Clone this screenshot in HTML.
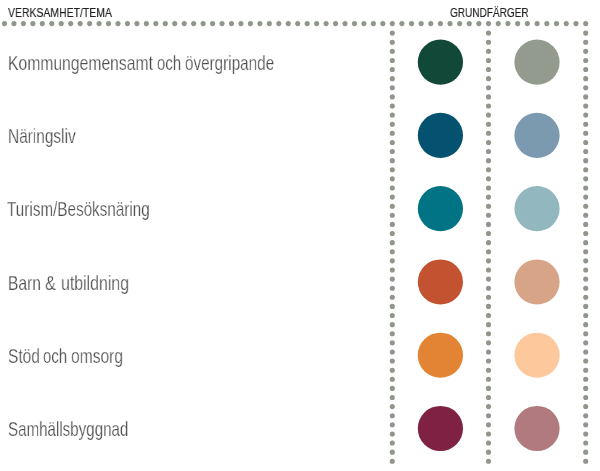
<!DOCTYPE html>
<html><head><meta charset="utf-8"><style>
html,body{margin:0;padding:0;background:#fff;width:600px;height:471px;overflow:hidden;}
body{position:relative;font-family:"Liberation Sans",sans-serif;}
svg{position:absolute;left:0;top:0;}
.t,.h{position:absolute;height:0;white-space:nowrap;}
.t span{position:absolute;left:0;bottom:0;font-size:21px;line-height:21px;color:#4a4a4a;-webkit-text-stroke:0.25px #fff;transform-origin:0 100%;display:inline-block;will-change:transform;}
.h span{position:absolute;left:0;bottom:0;font-size:13.5px;line-height:13.5px;color:#222;-webkit-text-stroke:0.15px #222;transform-origin:0 100%;display:inline-block;will-change:transform;}
</style></head><body>
<div class="h" style="left:8.16px;top:19.27px"><span style="transform:scaleX(0.7741)">VERKSAMHET/TEMA</span></div><div class="h" style="left:449.71px;top:19.27px"><span style="transform:scaleX(0.7434)">GRUNDFÄRGER</span></div>
<div class="t" style="left:8.20px;top:73.22px"><span style="transform:scaleX(0.7479)">Kommungemensamt</span></div><div class="t" style="left:156.95px;top:73.22px"><span style="transform:scaleX(0.7097)">och</span></div><div class="t" style="left:184.68px;top:73.22px"><span style="transform:scaleX(0.7272)">övergripande</span></div><div class="t" style="left:8.47px;top:146.22px"><span style="transform:scaleX(0.7343)">Näringsliv</span></div><div class="t" style="left:7.48px;top:219.42px"><span style="transform:scaleX(0.7265)">Turism/Besöksnäring</span></div><div class="t" style="left:8.42px;top:293.02px"><span style="transform:scaleX(0.7397)">Barn</span></div><div class="t" style="left:45.09px;top:293.02px"><span style="transform:scaleX(0.7742)">&amp;</span></div><div class="t" style="left:60.50px;top:293.02px"><span style="transform:scaleX(0.7565)">utbildning</span></div><div class="t" style="left:7.71px;top:365.92px"><span style="transform:scaleX(0.7398)">Stöd</span></div><div class="t" style="left:43.05px;top:365.92px"><span style="transform:scaleX(0.7097)">och</span></div><div class="t" style="left:70.51px;top:365.92px"><span style="transform:scaleX(0.7436)">omsorg</span></div><div class="t" style="left:7.74px;top:439.02px"><span style="transform:scaleX(0.7208)">Samhällsbyggnad</span></div>
<svg width="600" height="471" viewBox="0 0 600 471">
<g fill="#8f978c">
<circle cx="4.50" cy="23.6" r="2.55"/>
<circle cx="13.96" cy="23.6" r="2.55"/>
<circle cx="23.42" cy="23.6" r="2.55"/>
<circle cx="32.88" cy="23.6" r="2.55"/>
<circle cx="42.33" cy="23.6" r="2.55"/>
<circle cx="51.79" cy="23.6" r="2.55"/>
<circle cx="61.25" cy="23.6" r="2.55"/>
<circle cx="70.71" cy="23.6" r="2.55"/>
<circle cx="80.17" cy="23.6" r="2.55"/>
<circle cx="89.63" cy="23.6" r="2.55"/>
<circle cx="99.09" cy="23.6" r="2.55"/>
<circle cx="108.54" cy="23.6" r="2.55"/>
<circle cx="118.00" cy="23.6" r="2.55"/>
<circle cx="127.46" cy="23.6" r="2.55"/>
<circle cx="136.92" cy="23.6" r="2.55"/>
<circle cx="146.38" cy="23.6" r="2.55"/>
<circle cx="155.84" cy="23.6" r="2.55"/>
<circle cx="165.30" cy="23.6" r="2.55"/>
<circle cx="174.75" cy="23.6" r="2.55"/>
<circle cx="184.21" cy="23.6" r="2.55"/>
<circle cx="193.67" cy="23.6" r="2.55"/>
<circle cx="203.13" cy="23.6" r="2.55"/>
<circle cx="212.59" cy="23.6" r="2.55"/>
<circle cx="222.05" cy="23.6" r="2.55"/>
<circle cx="231.50" cy="23.6" r="2.55"/>
<circle cx="240.96" cy="23.6" r="2.55"/>
<circle cx="250.42" cy="23.6" r="2.55"/>
<circle cx="259.88" cy="23.6" r="2.55"/>
<circle cx="269.34" cy="23.6" r="2.55"/>
<circle cx="278.80" cy="23.6" r="2.55"/>
<circle cx="288.26" cy="23.6" r="2.55"/>
<circle cx="297.71" cy="23.6" r="2.55"/>
<circle cx="307.17" cy="23.6" r="2.55"/>
<circle cx="316.63" cy="23.6" r="2.55"/>
<circle cx="326.09" cy="23.6" r="2.55"/>
<circle cx="335.55" cy="23.6" r="2.55"/>
<circle cx="345.01" cy="23.6" r="2.55"/>
<circle cx="354.47" cy="23.6" r="2.55"/>
<circle cx="363.92" cy="23.6" r="2.55"/>
<circle cx="373.38" cy="23.6" r="2.55"/>
<circle cx="382.84" cy="23.6" r="2.55"/>
<circle cx="392.30" cy="23.6" r="2.55"/>
<circle cx="401.92" cy="23.6" r="2.55"/>
<circle cx="411.54" cy="23.6" r="2.55"/>
<circle cx="421.16" cy="23.6" r="2.55"/>
<circle cx="430.78" cy="23.6" r="2.55"/>
<circle cx="440.40" cy="23.6" r="2.55"/>
<circle cx="450.02" cy="23.6" r="2.55"/>
<circle cx="459.64" cy="23.6" r="2.55"/>
<circle cx="469.26" cy="23.6" r="2.55"/>
<circle cx="478.88" cy="23.6" r="2.55"/>
<circle cx="488.50" cy="23.6" r="2.55"/>
<circle cx="498.22" cy="23.6" r="2.55"/>
<circle cx="507.94" cy="23.6" r="2.55"/>
<circle cx="517.66" cy="23.6" r="2.55"/>
<circle cx="527.38" cy="23.6" r="2.55"/>
<circle cx="537.10" cy="23.6" r="2.55"/>
<circle cx="546.82" cy="23.6" r="2.55"/>
<circle cx="556.54" cy="23.6" r="2.55"/>
<circle cx="566.26" cy="23.6" r="2.55"/>
<circle cx="575.98" cy="23.6" r="2.55"/>
<circle cx="585.70" cy="23.6" r="2.55"/>
<circle cx="392.3" cy="33.11" r="2.55"/>
<circle cx="392.3" cy="42.22" r="2.55"/>
<circle cx="392.3" cy="51.33" r="2.55"/>
<circle cx="392.3" cy="60.44" r="2.55"/>
<circle cx="392.3" cy="69.55" r="2.55"/>
<circle cx="392.3" cy="78.66" r="2.55"/>
<circle cx="392.3" cy="87.77" r="2.55"/>
<circle cx="392.3" cy="96.88" r="2.55"/>
<circle cx="392.3" cy="105.99" r="2.55"/>
<circle cx="392.3" cy="115.10" r="2.55"/>
<circle cx="392.3" cy="124.21" r="2.55"/>
<circle cx="392.3" cy="133.32" r="2.55"/>
<circle cx="392.3" cy="142.43" r="2.55"/>
<circle cx="392.3" cy="151.54" r="2.55"/>
<circle cx="392.3" cy="160.65" r="2.55"/>
<circle cx="392.3" cy="169.76" r="2.55"/>
<circle cx="392.3" cy="178.87" r="2.55"/>
<circle cx="392.3" cy="187.98" r="2.55"/>
<circle cx="392.3" cy="197.09" r="2.55"/>
<circle cx="392.3" cy="206.20" r="2.55"/>
<circle cx="392.3" cy="215.31" r="2.55"/>
<circle cx="392.3" cy="224.42" r="2.55"/>
<circle cx="392.3" cy="233.53" r="2.55"/>
<circle cx="392.3" cy="242.64" r="2.55"/>
<circle cx="392.3" cy="251.75" r="2.55"/>
<circle cx="392.3" cy="260.86" r="2.55"/>
<circle cx="392.3" cy="269.97" r="2.55"/>
<circle cx="392.3" cy="279.08" r="2.55"/>
<circle cx="392.3" cy="288.19" r="2.55"/>
<circle cx="392.3" cy="297.30" r="2.55"/>
<circle cx="392.3" cy="306.41" r="2.55"/>
<circle cx="392.3" cy="315.52" r="2.55"/>
<circle cx="392.3" cy="324.63" r="2.55"/>
<circle cx="392.3" cy="333.74" r="2.55"/>
<circle cx="392.3" cy="342.85" r="2.55"/>
<circle cx="392.3" cy="351.96" r="2.55"/>
<circle cx="392.3" cy="361.07" r="2.55"/>
<circle cx="392.3" cy="370.18" r="2.55"/>
<circle cx="392.3" cy="379.29" r="2.55"/>
<circle cx="392.3" cy="388.40" r="2.55"/>
<circle cx="392.3" cy="397.51" r="2.55"/>
<circle cx="392.3" cy="406.62" r="2.55"/>
<circle cx="392.3" cy="415.73" r="2.55"/>
<circle cx="392.3" cy="424.84" r="2.55"/>
<circle cx="392.3" cy="433.95" r="2.55"/>
<circle cx="392.3" cy="443.06" r="2.55"/>
<circle cx="392.3" cy="452.17" r="2.55"/>
<circle cx="392.3" cy="461.28" r="2.55"/>
<circle cx="488.5" cy="33.11" r="2.55"/>
<circle cx="488.5" cy="42.22" r="2.55"/>
<circle cx="488.5" cy="51.33" r="2.55"/>
<circle cx="488.5" cy="60.44" r="2.55"/>
<circle cx="488.5" cy="69.55" r="2.55"/>
<circle cx="488.5" cy="78.66" r="2.55"/>
<circle cx="488.5" cy="87.77" r="2.55"/>
<circle cx="488.5" cy="96.88" r="2.55"/>
<circle cx="488.5" cy="105.99" r="2.55"/>
<circle cx="488.5" cy="115.10" r="2.55"/>
<circle cx="488.5" cy="124.21" r="2.55"/>
<circle cx="488.5" cy="133.32" r="2.55"/>
<circle cx="488.5" cy="142.43" r="2.55"/>
<circle cx="488.5" cy="151.54" r="2.55"/>
<circle cx="488.5" cy="160.65" r="2.55"/>
<circle cx="488.5" cy="169.76" r="2.55"/>
<circle cx="488.5" cy="178.87" r="2.55"/>
<circle cx="488.5" cy="187.98" r="2.55"/>
<circle cx="488.5" cy="197.09" r="2.55"/>
<circle cx="488.5" cy="206.20" r="2.55"/>
<circle cx="488.5" cy="215.31" r="2.55"/>
<circle cx="488.5" cy="224.42" r="2.55"/>
<circle cx="488.5" cy="233.53" r="2.55"/>
<circle cx="488.5" cy="242.64" r="2.55"/>
<circle cx="488.5" cy="251.75" r="2.55"/>
<circle cx="488.5" cy="260.86" r="2.55"/>
<circle cx="488.5" cy="269.97" r="2.55"/>
<circle cx="488.5" cy="279.08" r="2.55"/>
<circle cx="488.5" cy="288.19" r="2.55"/>
<circle cx="488.5" cy="297.30" r="2.55"/>
<circle cx="488.5" cy="306.41" r="2.55"/>
<circle cx="488.5" cy="315.52" r="2.55"/>
<circle cx="488.5" cy="324.63" r="2.55"/>
<circle cx="488.5" cy="333.74" r="2.55"/>
<circle cx="488.5" cy="342.85" r="2.55"/>
<circle cx="488.5" cy="351.96" r="2.55"/>
<circle cx="488.5" cy="361.07" r="2.55"/>
<circle cx="488.5" cy="370.18" r="2.55"/>
<circle cx="488.5" cy="379.29" r="2.55"/>
<circle cx="488.5" cy="388.40" r="2.55"/>
<circle cx="488.5" cy="397.51" r="2.55"/>
<circle cx="488.5" cy="406.62" r="2.55"/>
<circle cx="488.5" cy="415.73" r="2.55"/>
<circle cx="488.5" cy="424.84" r="2.55"/>
<circle cx="488.5" cy="433.95" r="2.55"/>
<circle cx="488.5" cy="443.06" r="2.55"/>
<circle cx="488.5" cy="452.17" r="2.55"/>
<circle cx="488.5" cy="461.28" r="2.55"/>
<circle cx="585.7" cy="33.11" r="2.55"/>
<circle cx="585.7" cy="42.22" r="2.55"/>
<circle cx="585.7" cy="51.33" r="2.55"/>
<circle cx="585.7" cy="60.44" r="2.55"/>
<circle cx="585.7" cy="69.55" r="2.55"/>
<circle cx="585.7" cy="78.66" r="2.55"/>
<circle cx="585.7" cy="87.77" r="2.55"/>
<circle cx="585.7" cy="96.88" r="2.55"/>
<circle cx="585.7" cy="105.99" r="2.55"/>
<circle cx="585.7" cy="115.10" r="2.55"/>
<circle cx="585.7" cy="124.21" r="2.55"/>
<circle cx="585.7" cy="133.32" r="2.55"/>
<circle cx="585.7" cy="142.43" r="2.55"/>
<circle cx="585.7" cy="151.54" r="2.55"/>
<circle cx="585.7" cy="160.65" r="2.55"/>
<circle cx="585.7" cy="169.76" r="2.55"/>
<circle cx="585.7" cy="178.87" r="2.55"/>
<circle cx="585.7" cy="187.98" r="2.55"/>
<circle cx="585.7" cy="197.09" r="2.55"/>
<circle cx="585.7" cy="206.20" r="2.55"/>
<circle cx="585.7" cy="215.31" r="2.55"/>
<circle cx="585.7" cy="224.42" r="2.55"/>
<circle cx="585.7" cy="233.53" r="2.55"/>
<circle cx="585.7" cy="242.64" r="2.55"/>
<circle cx="585.7" cy="251.75" r="2.55"/>
<circle cx="585.7" cy="260.86" r="2.55"/>
<circle cx="585.7" cy="269.97" r="2.55"/>
<circle cx="585.7" cy="279.08" r="2.55"/>
<circle cx="585.7" cy="288.19" r="2.55"/>
<circle cx="585.7" cy="297.30" r="2.55"/>
<circle cx="585.7" cy="306.41" r="2.55"/>
<circle cx="585.7" cy="315.52" r="2.55"/>
<circle cx="585.7" cy="324.63" r="2.55"/>
<circle cx="585.7" cy="333.74" r="2.55"/>
<circle cx="585.7" cy="342.85" r="2.55"/>
<circle cx="585.7" cy="351.96" r="2.55"/>
<circle cx="585.7" cy="361.07" r="2.55"/>
<circle cx="585.7" cy="370.18" r="2.55"/>
<circle cx="585.7" cy="379.29" r="2.55"/>
<circle cx="585.7" cy="388.40" r="2.55"/>
<circle cx="585.7" cy="397.51" r="2.55"/>
<circle cx="585.7" cy="406.62" r="2.55"/>
<circle cx="585.7" cy="415.73" r="2.55"/>
<circle cx="585.7" cy="424.84" r="2.55"/>
<circle cx="585.7" cy="433.95" r="2.55"/>
<circle cx="585.7" cy="443.06" r="2.55"/>
<circle cx="585.7" cy="452.17" r="2.55"/>
<circle cx="585.7" cy="461.28" r="2.55"/>
</g>
<circle cx="440.4" cy="62.20" r="22.6" fill="#124838"/><circle cx="537.0" cy="62.20" r="22.6" fill="#939b8f"/><circle cx="440.4" cy="135.46" r="22.6" fill="#04526f"/><circle cx="537.0" cy="135.46" r="22.6" fill="#7b9ab0"/><circle cx="440.4" cy="208.72" r="22.6" fill="#007484"/><circle cx="537.0" cy="208.72" r="22.6" fill="#92b7be"/><circle cx="440.4" cy="281.98" r="22.6" fill="#c35231"/><circle cx="537.0" cy="281.98" r="22.6" fill="#d8a488"/><circle cx="440.4" cy="355.24" r="22.6" fill="#e38434"/><circle cx="537.0" cy="355.24" r="22.6" fill="#fdc99c"/><circle cx="440.4" cy="428.50" r="22.6" fill="#7e2142"/><circle cx="537.0" cy="428.50" r="22.6" fill="#b07a7e"/>
</svg>
</body></html>
